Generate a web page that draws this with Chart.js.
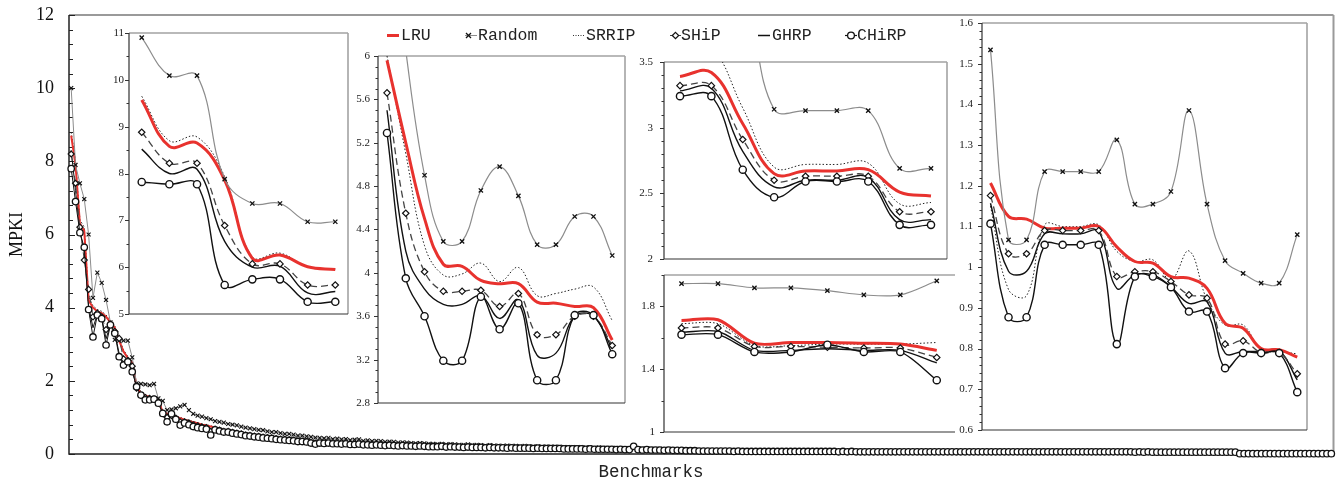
<!DOCTYPE html>
<html><head><meta charset="utf-8">
<script src="https://cdn.jsdelivr.net/npm/chart.js@4.4.1/dist/chart.umd.min.js"></script>
<style>
html,body{margin:0;padding:0;background:#fff;}
#wrap{position:relative;width:1338px;height:485px;overflow:hidden;background:#fff;}
canvas{position:absolute;}
.lt{position:absolute;top:24.5px;height:22px;line-height:22px;font-family:"Liberation Mono","Courier New",monospace;font-size:16.5px;color:#222;white-space:nowrap;}
#xt{position:absolute;left:0;width:1302px;top:461px;height:22px;line-height:22px;text-align:center;font-family:"Liberation Mono","Courier New",monospace;font-size:17.5px;color:#222;}
#lg{position:absolute;left:0;top:0;}
</style></head><body>
<div id="wrap">
<canvas id="main" width="1338" height="485" style="left:0;top:0;width:1338px;height:485px"></canvas>
<canvas id="in1"></canvas><canvas id="in2"></canvas><canvas id="in3"></canvas><canvas id="in4"></canvas><canvas id="in5"></canvas>
<svg id="lg" width="1338" height="60">
 <line x1="387" y1="35.5" x2="399" y2="35.5" stroke="#e8322e" stroke-width="3"/>
 <line x1="465" y1="35.5" x2="477" y2="35.5" stroke="#8c8c8c" stroke-width="1"/>
 <path d="M466 33 L471 38 M471 33 L466 38" stroke="#111" stroke-width="1.3"/>
 <line x1="573" y1="35.5" x2="584" y2="35.5" stroke="#333" stroke-width="1" stroke-dasharray="1,1.5"/>
 <line x1="670" y1="35.5" x2="681" y2="35.5" stroke="#444" stroke-width="1"/>
 <path d="M675.5 32.3 L678.7 35.5 L675.5 38.7 L672.3 35.5 Z" fill="#fff" stroke="#111" stroke-width="1.2"/>
 <line x1="758" y1="35.5" x2="770" y2="35.5" stroke="#111" stroke-width="1.5"/>
 <line x1="845" y1="35.5" x2="857" y2="35.5" stroke="#111" stroke-width="1.2"/>
 <circle cx="851" cy="35.5" r="3.4" fill="#fff" stroke="#111" stroke-width="1.3"/>
</svg>
<div class="lt" style="left:401px">LRU</div>
<div class="lt" style="left:478px">Random</div>
<div class="lt" style="left:586px">SRRIP</div>
<div class="lt" style="left:681px">SHiP</div>
<div class="lt" style="left:772px">GHRP</div>
<div class="lt" style="left:857px">CHiRP</div>
<div id="xt">Benchmarks</div>
</div>
<script>
// ---------------- MAIN CHART DATA (MPKI per benchmark, sorted) ----------------
const mainTicks = [0, 2, 4, 6, 8, 10, 12];

const mainCHiRP = [
 7.8,6.9,6.05,5.65,3.95,3.2,3.8,3.7,2.98,3.53,3.3,2.66,2.43,2.52,2.25,1.84,1.61,1.48,1.48,1.5,1.39,1.11,0.88,1.1,0.95,
 0.79,0.85,0.80,0.75,0.72,0.70,0.68,0.52,0.66,0.63,0.60,0.60,0.57,0.55,0.53,0.50,0.49,0.47,0.46,0.44,0.43,0.42,0.40,0.39,0.38,0.37,0.36,0.34,0.34,0.33,0.30,0.27,
 0.30,0.29,0.30,0.28,0.28,0.27,0.28,0.26,0.26,0.27,0.25,0.25,0.24,0.25,0.24,0.23,0.24,0.23,0.22,0.23,0.22,0.22,0.21,0.22,0.21,0.20,0.20,
 0.20,0.21,0.19,0.20,0.19,0.19,0.18,0.19,0.18,0.18,0.18,0.17,0.18,0.17,0.17,0.17,0.16,0.17,0.16,0.16,0.16,0.16,0.15,0.16,0.15,0.15,0.15,0.15,0.15,0.14,
 0.14,0.14,0.14,0.14,0.13,0.14,0.13,0.13,0.13,0.13,0.13,0.12,0.13,0.12,0.12,0.21,0.12,0.11,0.12,0.11,0.11,0.11,0.10,0.11,0.10,0.10,0.10,0.09,0.09,0.09,
 0.08,0.08,0.08,0.08,0.08,0.08,0.08,0.08,0.07,0.08,
 0.07,0.07,0.07,0.07,0.07,0.07,0.07,0.07,0.07,0.07,
 0.07,0.07,0.07,0.07,0.07,0.07,0.07,0.07,0.07,0.07,
 0.07,0.07,0.06,0.07,0.06,0.07,0.06,0.06,0.06,0.06,
 0.06,0.06,0.06,0.06,0.06,0.06,0.06,0.06,0.06,0.06,
 0.06,0.06,0.06,0.06,0.06,0.06,0.06,0.06,0.06,0.06,
 0.06,0.06,0.06,0.06,0.06,0.06,0.06,0.06,0.06,0.06,
 0.06,0.06,0.06,0.06,0.06,0.06,0.06,0.06,0.06,0.06,
 0.06,0.06,0.06,0.06,0.06,0.06,0.06,0.06,0.06,0.06,
 0.06,0.06,0.06,0.06,0.06,0.06,0.06,0.06,0.06,0.06,
 0.05,0.06,0.05,0.06,0.05,0.05,0.05,0.05,0.05,0.05,
 0.05,0.05,0.05,0.05,0.05,0.05,0.05,0.05,0.05,0.05,
 0.05,0.05,0.05,0.05,
 0.01,0.01,0.01,0.01,0.01,0.01,0.01,0.01,0.01,0.01,0.01,0.01,0.01,0.01,0.01,0.01,0.01,0.01,0.01,0.01,0.01,0.01
];

const mainLRU = [
 8.7,7.9,6.3,6.1,4.2,4.0,3.9,3.85,3.75,3.6,3.45,3.1,2.8,2.62,2.5,1.85,1.65,1.6,1.55,1.52,1.45,1.15,1.1,1.06,1.02,0.98,0.94,0.9,0.87,0.84,0.8,0.78,0.75,0.72,0.69,0.66,0.64,0.62,0.6,0.58,0.56,0.54,0.52,0.5,0.49,0.47,0.46,0.44,0.43,0.42,0.41,0.4,0.38,0.37,0.36,0.35,0.34,
 0.33,0.32,0.32,0.31,0.31,0.30,0.30,0.29,0.29,0.29,0.28,0.28,0.27,0.27,0.27,0.26,0.26,0.26,0.25,0.25,0.25,0.24,0.24,0.24,0.23,0.23,0.22,
 0.22,0.22,0.22,0.21,0.21,0.21,0.21,0.20,0.20,0.20,0.20,0.19,0.19,0.19,0.19,0.19,0.18,0.18,0.18,0.18,0.18,0.17,0.17,0.17,0.17,0.17,0.17,0.16,0.16,0.16,
 0.16,0.16,0.15,0.15,0.15,0.15,0.15,0.14,0.14,0.14,0.14,0.14,0.13,0.13,0.13,0.14,0.13,0.12,0.12,0.12,0.12,0.12,0.11,0.11,0.11,0.11,0.11,0.10,0.10,0.10,
 0.10,0.09,0.09,0.09,0.09,0.09,0.09,0.09,0.09,0.09,
 0.09,0.08,0.08,0.08,0.08,0.08,0.08,0.08,0.08,0.08,
 0.08,0.08,0.08,0.08,0.08,0.08,0.08,0.08,0.08,0.08,
 0.08,0.08,0.07,0.08,0.07,0.08,0.07,0.07,0.07,0.07,
 0.07,0.07,0.07,0.07,0.07,0.07,0.07,0.07,0.07,0.07,
 0.07,0.07,0.07,0.07,0.07,0.07,0.07,0.07,0.07,0.07,
 0.07,0.07,0.07,0.07,0.07,0.07,0.07,0.07,0.07,0.07,
 0.07,0.07,0.07,0.07,0.07,0.07,0.07,0.07,0.07,0.07,
 0.07,0.07,0.07,0.07,0.07,0.07,0.07,0.07,0.07,0.07,
 0.07,0.07,0.07,0.07,0.07,0.07,0.07,0.07,0.07,0.07,
 0.06,0.07,0.06,0.07,0.06,0.06,0.06,0.06,0.06,0.06,
 0.06,0.06,0.06,0.06,0.06,0.06,0.06,0.06,0.06,0.06,
 0.06,0.06,0.06,0.06,
 0.02,0.02,0.02,0.02,0.02,0.02,0.02,0.02,0.02,0.02,0.02,0.02,0.02,0.02,0.02,0.02,0.02,0.02,0.02,0.02,0.02,0.02
];

const mainRandom = [
 10.0,7.9,7.4,6.97,6.0,4.27,4.96,4.68,4.21,3.6,3.12,3.1,3.1,3.1,2.64,1.93,1.92,1.9,1.88,1.92,1.52,1.45,1.2,1.22,1.25,1.3,1.34,1.2,1.1,1.05,1.02,0.98,0.95,0.9,0.88,0.86,0.82,0.8,0.78,0.75,0.72,0.7,0.68,0.66,0.65,0.62,0.6,0.6,0.57,0.55,0.55,0.53,0.5,0.5,0.48,0.47,0.45,
 0.44,0.43,0.44,0.41,0.42,0.40,0.41,0.38,0.39,0.40,0.36,0.37,0.35,0.36,0.35,0.33,0.34,0.33,0.31,0.32,0.31,0.30,0.29,0.30,0.29,0.28,0.28,
 0.27,0.28,0.26,0.27,0.26,0.25,0.25,0.26,0.24,0.25,0.24,0.23,0.24,0.23,0.23,0.22,0.23,0.22,0.22,0.21,0.22,0.21,0.21,0.21,0.20,0.21,0.20,0.20,0.20,0.19,
 0.19,0.19,0.18,0.19,0.18,0.18,0.17,0.18,0.17,0.17,0.16,0.17,0.16,0.16,0.16,0.24,0.15,0.15,0.15,0.14,0.14,0.14,0.13,0.14,0.13,0.13,0.12,0.12,0.12,0.11,
 0.10,0.10,0.10,0.10,0.10,0.10,0.09,0.10,0.09,0.09,
 0.09,0.09,0.09,0.09,0.09,0.09,0.09,0.09,0.09,0.09,
 0.09,0.09,0.08,0.09,0.08,0.08,0.08,0.08,0.08,0.08,
 0.08,0.08,0.08,0.08,0.08,0.08,0.08,0.08,0.08,0.08,
 0.08,0.08,0.07,0.08,0.07,0.07,0.07,0.07,0.07,0.07,
 0.07,0.07,0.07,0.07,0.07,0.07,0.07,0.07,0.07,0.07,
 0.07,0.07,0.07,0.07,0.07,0.07,0.07,0.07,0.07,0.07,
 0.07,0.07,0.07,0.07,0.07,0.07,0.07,0.07,0.07,0.07,
 0.07,0.07,0.07,0.07,0.07,0.07,0.07,0.07,0.07,0.07,
 0.07,0.07,0.07,0.07,0.07,0.07,0.07,0.07,0.07,0.07,
 0.07,0.07,0.07,0.07,0.07,0.07,0.07,0.07,0.07,0.07,
 0.07,0.07,0.06,0.07,0.06,0.06,0.06,0.06,0.06,0.06,
 0.06,0.06,0.06,0.06,
 0.02,0.02,0.02,0.02,0.02,0.02,0.02,0.02,0.02,0.02,0.02,0.02,0.02,0.02,0.02,0.02,0.02,0.02,0.02,0.02,0.02,0.02
];

const mainSRRIP = [8.8,8.0,6.4,6.2,4.3,4.05,3.95,3.9,3.8,3.65,3.5,3.15,2.85,2.66,2.54,1.9,1.7,1.63,1.58,1.55,1.48,1.18,1.12,1.08,1.04,1.0,0.96,0.92,0.89,0.86,0.82,0.8,0.77,0.74,0.71,0.68,0.66,0.64,0.62,0.6,0.58,0.56,0.54,0.52,0.51,0.49,0.48,0.46,0.45,0.44,0.43,0.42,0.4,0.39,0.38,0.37,0.36];
const mainSHiP  = [8.2,7.4,6.2,5.3,4.5,3.75,3.85,3.75,3.4,3.55,3.35,3.16,2.6,2.56,2.4,1.8,1.6,1.54,1.52,1.5,1.42,1.12,1.0,1.05,0.98,0.88,0.88,0.85,0.8,0.77,0.74,0.72,0.62,0.68,0.65,0.62,0.62,0.59,0.57,0.55,0.52,0.51,0.49,0.48,0.46,0.45,0.44,0.42,0.41,0.4,0.39,0.38,0.36,0.35,0.34,0.32,0.3];
const mainGHRP  = [8.3,7.2,6.1,5.5,4.05,3.45,3.82,3.72,3.15,3.54,3.32,2.75,2.5,2.54,2.32,1.82,1.6,1.5,1.5,1.5,1.4,1.11,0.94,1.08,0.96,0.84,0.86,0.82,0.78,0.75,0.72,0.7,0.58,0.67,0.64,0.61,0.61,0.58,0.56,0.54,0.51,0.5,0.48,0.47,0.45,0.44,0.43,0.41,0.4,0.39,0.38,0.37,0.35,0.35,0.34,0.31,0.28];

// ---------------- INSET DATA ----------------
const in1Ticks = [5, 6, 7, 8, 9, 10, 11];
const in1Random = [10.9, 10.09, 10.09, 7.88, 7.36, 7.36, 6.97, 6.97];
const in1LRU    = [9.57, 8.58, 8.65, 7.86, 6.19, 6.26, 6.01, 5.95];
const in1SRRIP  = [9.65, 8.7, 8.78, 7.93, 6.22, 6.3, 6.0, 5.96];
const in1SHiP   = [8.88, 8.22, 8.22, 6.89, 6.07, 6.07, 5.62, 5.62];
const in1GHRP   = [8.52, 8.0, 8.09, 6.55, 6.0, 6.02, 5.45, 5.48];
const in1CHiRP  = [7.82, 7.77, 7.77, 5.62, 5.74, 5.74, 5.26, 5.26];

const in2Ticks = [2.8, 3.2, 3.6, 4, 4.4, 4.8, 5.2, 5.6, 6];
const in2Random = [7.5, 6.05, 4.9, 4.29, 4.29, 4.76, 4.98, 4.71, 4.26, 4.26, 4.52, 4.52, 4.16];
const in2LRU    = [5.96, 5.2, 4.5, 4.08, 4.06, 3.93, 3.9, 3.9, 3.73, 3.72, 3.69, 3.68, 3.38];
const in2SRRIP  = [6.0, 5.1, 4.25, 3.98, 3.99, 4.09, 3.92, 4.05, 3.79, 3.81, 3.85, 3.87, 3.56];
const in2SHiP   = [5.66, 4.55, 4.01, 3.83, 3.83, 3.84, 3.69, 3.81, 3.43, 3.43, 3.6, 3.6, 3.33];
const in2GHRP   = [5.5, 4.2, 3.85, 3.71, 3.71, 3.79, 3.58, 3.75, 3.24, 3.26, 3.6, 3.6, 3.3];
const in2CHiRP  = [5.29, 3.95, 3.6, 3.19, 3.19, 3.78, 3.48, 3.72, 3.01, 3.01, 3.61, 3.61, 3.25];

const in3Ticks = [2, 2.5, 3, 3.5];
const in3Random = [4.2, 4.1, 4.0, 3.14, 3.13, 3.13, 3.13, 2.69, 2.69];
const in3LRU    = [3.39, 3.42, 3.03, 2.65, 2.67, 2.67, 2.68, 2.51, 2.48];
const in3SRRIP  = [3.7, 3.62, 3.15, 2.7, 2.72, 2.72, 2.73, 2.42, 2.43];
const in3SHiP   = [3.32, 3.32, 2.91, 2.6, 2.63, 2.63, 2.63, 2.36, 2.36];
const in3GHRP   = [3.28, 3.3, 2.82, 2.55, 2.6, 2.6, 2.62, 2.3, 2.3];
const in3CHiRP  = [3.24, 3.24, 2.68, 2.47, 2.59, 2.59, 2.59, 2.26, 2.26];

const in4Ticks = [1, 1.4, 1.8];
const in4Random = [1.945, 1.945, 1.918, 1.918, 1.9, 1.873, 1.873, 1.963];
const in4LRU    = [1.71, 1.715, 1.565, 1.57, 1.57, 1.565, 1.56, 1.52];
const in4SRRIP  = [1.69, 1.69, 1.55, 1.55, 1.56, 1.56, 1.56, 1.57];
const in4SHiP   = [1.663, 1.663, 1.545, 1.545, 1.54, 1.535, 1.535, 1.475];
const in4GHRP   = [1.635, 1.64, 1.52, 1.52, 1.53, 1.52, 1.52, 1.44];
const in4CHiRP  = [1.62, 1.62, 1.51, 1.51, 1.556, 1.51, 1.51, 1.33];

const in5Ticks = [0.6, 0.7, 0.8, 0.9, 1, 1.1, 1.2, 1.3, 1.4, 1.5, 1.6];
const in5Random = [1.534, 1.067, 1.067, 1.235, 1.235, 1.235, 1.235, 1.313, 1.155, 1.155, 1.186, 1.385, 1.155, 1.016, 0.985, 0.961, 0.961, 1.08];
const in5LRU    = [1.207, 1.125, 1.118, 1.096, 1.096, 1.096, 1.1, 1.05, 1.014, 1.01, 0.977, 0.973, 0.948, 0.862, 0.85, 0.8, 0.797, 0.779];
const in5SRRIP  = [1.15, 0.945, 0.93, 1.104, 1.1, 1.1, 1.104, 1.039, 1.014, 1.018, 0.969, 1.04, 0.92, 0.858, 0.858, 0.797, 0.793, 0.787];
const in5SHiP   = [1.176, 1.033, 1.033, 1.09, 1.09, 1.09, 1.09, 0.977, 0.989, 0.989, 0.965, 0.932, 0.924, 0.811, 0.819, 0.79, 0.79, 0.738];
const in5GHRP   = [1.157, 0.99, 0.99, 1.082, 1.082, 1.082, 1.088, 0.948, 0.981, 0.981, 0.952, 0.911, 0.915, 0.789, 0.793, 0.793, 0.795, 0.723];
const in5CHiRP  = [1.107, 0.877, 0.877, 1.055, 1.055, 1.055, 1.055, 0.811, 0.977, 0.977, 0.951, 0.891, 0.891, 0.752, 0.789, 0.789, 0.789, 0.693];

// ---------------- STYLES ----------------
const RED = '#e8322e';
const STY = {
  LRU:   {borderColor: RED, borderWidth: 3, pointRadius: 0},
  Random:{borderColor: '#8c8c8c', borderWidth: 1.2, pointStyle: 'crossRot', pointRadius: 3, pointBorderColor: '#111', pointBackgroundColor: '#111', pointBorderWidth: 1.3},
  SRRIP: {borderColor: '#222', borderWidth: 1, borderDash: [1.5, 2], pointRadius: 0},
  SHiP:  {borderColor: '#444', borderWidth: 1.3, borderDash: [7, 4], pointStyle: 'rectRot', pointRadius: 3.2, pointBackgroundColor: '#fff', pointBorderColor: '#111', pointBorderWidth: 1.2},
  GHRP:  {borderColor: '#111', borderWidth: 1.4, pointRadius: 0},
  CHiRP: {borderColor: '#111', borderWidth: 1.4, pointStyle: 'circle', pointRadius: 3.6, pointBackgroundColor: '#fff', pointBorderColor: '#111', pointBorderWidth: 1.4}
};
const ORDER = {CHiRP: 0, SHiP: 1, Random: 2, LRU: 3, GHRP: 4, SRRIP: 5};
const pts = arr => arr.map((v, i) => ({x: i, y: v}));
const fmt = v => String(Math.round(v * 100) / 100);

const framePlugin = {
  id: 'frame',
  beforeDatasetsDraw(chart, args, o) {
    const {ctx, chartArea: a} = chart;
    const ys = chart.scales.y;
    ctx.save();
    ctx.strokeStyle = o.boxColor; ctx.lineWidth = o.boxWidth;
    ctx.beginPath();
    ctx.moveTo(a.left, a.top); ctx.lineTo(a.right, a.top);
    if (o.right) { ctx.moveTo(a.right, a.top); ctx.lineTo(a.right, a.bottom); }
    ctx.stroke();
    ctx.strokeStyle = o.axisColor; ctx.lineWidth = o.axisWidth;
    ctx.beginPath();
    ctx.moveTo(a.left, a.top); ctx.lineTo(a.left, a.bottom); ctx.lineTo(a.right, a.bottom);
    ctx.stroke();
    const dir = o.inside ? 1 : -1;
    ctx.lineWidth = 1; ctx.strokeStyle = o.axisColor;
    ctx.beginPath();
    const n = Math.round((ys.max - ys.min) / o.minorStep);
    for (let k = 0; k <= n; k++) {
      const v = ys.min + k * o.minorStep;
      const y = Math.round(ys.getPixelForValue(v)) + 0.5;
      const major = o.majors.some(m => Math.abs(m - v) < 1e-6);
      const len = major ? o.majorLen : o.minorLen;
      ctx.moveTo(a.left, y); ctx.lineTo(a.left + dir * len, y);
    }
    ctx.stroke();
    ctx.restore();
  }
};

function dataset(name, arr, extra) {
  return Object.assign({label: name, data: pts(arr), order: ORDER[name], tension: 0.4,
    pointHoverRadius: 0, fill: false}, STY[name], extra || {});
}
function fixWidth(w) {
  return s => { s.width = w; s.paddingTop = 0; s.paddingBottom = 0; };
}

// ---------------- MAIN CHART ----------------
const N = mainCHiRP.length;
const mainExtra = {tension: 0, clip: false};
new Chart(document.getElementById('main'), {
  type: 'line',
  data: {datasets: [
    dataset('SRRIP', mainSRRIP, mainExtra),
    dataset('GHRP', mainGHRP, Object.assign({borderWidth: 1}, mainExtra)),
    dataset('LRU', mainLRU, Object.assign({borderWidth: 2}, mainExtra)),
    dataset('Random', mainRandom, Object.assign({borderWidth: 1, pointRadius: 2.8, pointBorderWidth: 1.1}, mainExtra)),
    dataset('SHiP', mainSHiP, Object.assign({borderWidth: 1, pointRadius: 3}, mainExtra)),
    dataset('CHiRP', mainCHiRP, Object.assign({borderWidth: 1, pointRadius: 3.2, pointBorderWidth: 1.3}, mainExtra))
  ]},
  options: {
    responsive: false, animation: false, devicePixelRatio: 1, events: [],
    layout: {padding: {top: 15, right: 3, bottom: 31, left: 0}},
    plugins: {legend: {display: false}, tooltip: {enabled: false},
      frame: {boxColor: '#9a9a9a', boxWidth: 2, right: true, axisColor: '#222', axisWidth: 1.5,
              inside: true, minorStep: 0.4, majors: mainTicks, majorLen: 6, minorLen: 4}},
    scales: {
      x: {type: 'linear', min: -0.5, max: N - 0.5, display: false},
      y: {type: 'linear', min: 0, max: 12,
          afterFit: fixWidth(69),
          afterBuildTicks: s => { s.ticks = mainTicks.map(v => ({value: v})); },
          grid: {display: false, drawTicks: false}, border: {display: false},
          ticks: {padding: 15, color: '#111', font: {family: '"Liberation Serif", "Times New Roman", serif', size: 18}, callback: fmt},
          title: {display: true, text: 'MPKI', color: '#111', font: {family: '"Liberation Serif", "Times New Roman", serif', size: 18}, padding: {top: 6, bottom: 0}}
      }
    }
  },
  plugins: [framePlugin]
});

// ---------------- INSETS ----------------
function makeInset(id, box, yMin, yMax, majors, minorStep, labelPad, xMin, xMax, series, opt) {
  const L = 44, P = 8, R = 6;
  const cv = document.getElementById(id);
  const w = box.r - box.l + L + R, h = box.b - box.t + 2 * P;
  cv.width = w; cv.height = h;
  cv.style.left = (box.l - L) + 'px'; cv.style.top = (box.t - P) + 'px';
  cv.style.width = w + 'px'; cv.style.height = h + 'px';
  const ds = Object.keys(series).map(k => dataset(k, series[k], {tension: opt.tension}));
  new Chart(cv, {
    type: 'line',
    data: {datasets: ds},
    options: {
      responsive: false, animation: false, devicePixelRatio: 1, events: [],
      layout: {padding: {top: P, right: R, bottom: P, left: 0}},
      plugins: {legend: {display: false}, tooltip: {enabled: false},
        frame: {boxColor: '#a3a3a3', boxWidth: 1.6, right: opt.right, axisColor: '#333', axisWidth: 1.2,
                inside: false, minorStep: minorStep, majors: majors, majorLen: 4, minorLen: 2.5}},
      scales: {
        x: {type: 'linear', min: xMin, max: xMax, display: false},
        y: {type: 'linear', min: yMin, max: yMax,
            afterFit: fixWidth(L),
            afterBuildTicks: s => { s.ticks = majors.map(v => ({value: v})); },
            grid: {display: false, drawTicks: false}, border: {display: false},
            ticks: {padding: labelPad, color: '#222', font: {family: '"Liberation Serif", "Times New Roman", serif', size: 11}, callback: fmt}
        }
      }
    },
    plugins: [framePlugin]
  });
}

makeInset('in1', {l: 129, t: 33, r: 348, b: 314}, 5, 11, in1Ticks, 0.5, 5, -0.46, 7.46,
  {SRRIP: in1SRRIP, GHRP: in1GHRP, Random: in1Random, LRU: in1LRU, SHiP: in1SHiP, CHiRP: in1CHiRP}, {tension: 0.4, right: true});
makeInset('in2', {l: 378, t: 56, r: 625, b: 403}, 2.8, 6, in2Ticks, 0.1, 8, -0.48, 12.68,
  {SRRIP: in2SRRIP, GHRP: in2GHRP, Random: in2Random, LRU: in2LRU, SHiP: in2SHiP, CHiRP: in2CHiRP}, {tension: 0.4, right: true});
makeInset('in3', {l: 664, t: 62, r: 947, b: 259}, 2, 3.5, in3Ticks, 0.1, 11, -0.51, 8.51,
  {SRRIP: in3SRRIP, GHRP: in3GHRP, Random: in3Random, LRU: in3LRU, SHiP: in3SHiP, CHiRP: in3CHiRP}, {tension: 0.4, right: true});
makeInset('in4', {l: 664, t: 275, r: 955, b: 432}, 1, 2, in4Ticks, 0.2, 9, -0.48, 7.5,
  {SRRIP: in4SRRIP, GHRP: in4GHRP, Random: in4Random, LRU: in4LRU, SHiP: in4SHiP, CHiRP: in4CHiRP}, {tension: 0.3, right: false});
makeInset('in5', {l: 982, t: 23, r: 1307, b: 430}, 0.6, 1.6, in5Ticks, 0.02, 9, -0.47, 17.54,
  {SRRIP: in5SRRIP, GHRP: in5GHRP, Random: in5Random, LRU: in5LRU, SHiP: in5SHiP, CHiRP: in5CHiRP}, {tension: 0.4, right: true});
</script>
</body></html>
